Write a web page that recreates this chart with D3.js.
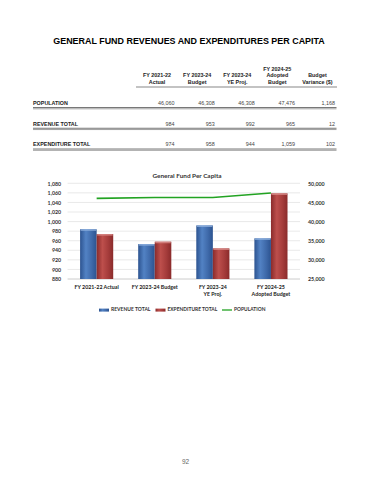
<!DOCTYPE html>
<html>
<head>
<meta charset="utf-8">
<script src="https://cdn.jsdelivr.net/npm/d3@7"></script>
<style>
  body { margin: 0; background: #fff; }
  svg { display: block; }
</style>
</head>
<body>
<div id="page"></div>
<script>
// chart data
var categories = ["FY 2021-22 Actual", "FY 2023-24 Budget", "FY 2023-24|YE Proj.", "FY 2024-25|Adopted Budget"];
var revenue = [984, 953, 992, 965];
var expenditure = [974, 958, 944, 1059];
var population = [46060, 46308, 46308, 47476];
var variance = [1168, 12, 102];

// table labels
var tableHeaders = [["FY 2021-22", "Actual"], ["FY 2023-24", "Budget"], ["FY 2023-24", "YE Proj."], ["FY 2024-25", "Adopted", "Budget"], ["Budget", "Variance ($)"]];
var rowLabels = ["POPULATION", "REVENUE TOTAL", "EXPENDITURE TOTAL"];
var leftTicks = [880, 900, 920, 940, 960, 980, 1000, 1020, 1040, 1060, 1080];
var rightTicks = [25000, 30000, 35000, 40000, 45000, 50000];

var W = 370, H = 480;
var fmt = d3.format(",");

var svg = d3.select("#page").append("svg")
    .attr("width", W)
    .attr("height", H);

// shrink/grow font so the text spans about the width seen in the original
function fitWidth(sel, target) {
    var w = sel.node().getComputedTextLength();
    var fs = parseFloat(sel.attr("font-size"));
    if (w > 0) sel.attr("font-size", (fs * target / w).toFixed(2) + "px");
}

// page title
var title = svg.append("text")
    .attr("x", 189).attr("y", 43.5)
    .attr("text-anchor", "middle")
    .attr("font-family", "Liberation Sans, Arial, sans-serif")
    .attr("font-weight", "bold")
    .attr("font-size", "9.6px")
    .attr("fill", "#000")
    .text("GENERAL FUND REVENUES AND EXPENDITURES PER CAPITA");
fitWidth(title, 272);

// ---- table ----
var tFont = "Liberation Sans, Arial, sans-serif";
var colX = d3.scaleBand().domain(d3.range(5)).range([137, 337.5]);
var rowY = d3.scalePoint().domain(d3.range(3)).range([103.5, 145]);
var rows = [population, revenue, expenditure];

tableHeaders.forEach(function(lines, c) {
    lines.forEach(function(t, i) {
        svg.append("text")
            .attr("x", colX(c) + colX.bandwidth() / 2)
            .attr("y", 82.7 - (lines.length - 1 - i) * 6.8)
            .attr("dominant-baseline", "middle")
            .attr("text-anchor", "middle")
            .attr("font-family", tFont)
            .attr("font-weight", "bold")
            .attr("font-size", "5.4px")
            .attr("fill", "#222")
            .text(t);
    });
});

svg.append("line")
    .attr("x1", 136).attr("x2", 337)
    .attr("y1", 87).attr("y2", 87)
    .attr("stroke", "#555").attr("stroke-width", 0.7);

rowLabels.forEach(function(lab, r) {
    var y = rowY(r);
    svg.append("text")
        .attr("x", 33).attr("y", y)
        .attr("dominant-baseline", "middle")
        .attr("font-family", tFont)
        .attr("font-weight", "bold")
        .attr("font-size", "5.4px")
        .attr("fill", "#222")
        .text(lab);
    var vals = rows[r].concat([variance[r]]);
    vals.forEach(function(v, c) {
        svg.append("text")
            .attr("x", colX(c) + colX.bandwidth() - 2.5)
            .attr("y", y)
            .attr("dominant-baseline", "middle")
            .attr("text-anchor", "end")
            .attr("font-family", tFont)
            .attr("font-size", "5.4px")
            .attr("fill", "#444")
            .text(fmt(v));
    });
    svg.append("line")
        .attr("x1", 33).attr("x2", 336.5)
        .attr("y1", y + 4).attr("y2", y + 4)
        .attr("stroke", "#555").attr("stroke-width", 0.8);
    svg.append("line")
        .attr("x1", 33).attr("x2", 336.5)
        .attr("y1", y + 5.3).attr("y2", y + 5.3)
        .attr("stroke", "#888").attr("stroke-width", 0.8);
});

// ---- chart ----
var plot = {left: 67.6, right: 300, top: 183.3, bottom: 279};
var cFont = "Lato, Open Sans, sans-serif";

var x = d3.scaleBand().domain(categories).range([plot.left, plot.right])
    .paddingInner(0.43).paddingOuter(0.215);
var xs = d3.scaleBand().domain(["rev", "exp"]).range([0, x.bandwidth()]);
var yL = d3.scaleLinear().domain([880, 1080]).range([plot.bottom, plot.top]);
var yR = d3.scaleLinear().domain([25000, 50000]).range([plot.bottom, plot.top]);

var defs = svg.append("defs");
function grad(id, dark, mid, light) {
    var g = defs.append("linearGradient").attr("id", id)
        .attr("x1", "0%").attr("x2", "100%").attr("y1", "0%").attr("y2", "0%");
    g.append("stop").attr("offset", "0%").attr("stop-color", dark);
    g.append("stop").attr("offset", "35%").attr("stop-color", light);
    g.append("stop").attr("offset", "70%").attr("stop-color", mid);
    g.append("stop").attr("offset", "100%").attr("stop-color", dark);
}
grad("gBlue", "#2c5390", "#3f6aaa", "#5282c4");
grad("gRed", "#8a2b2b", "#a53c3b", "#bd4f4c");

// gridlines
svg.append("g")
    .selectAll("line")
    .data(leftTicks)
    .enter().append("line")
    .attr("x1", plot.left).attr("x2", plot.right)
    .attr("y1", function(d) { return yL(d); })
    .attr("y2", function(d) { return yL(d); })
    .attr("stroke", function(d, i) { return i === 0 ? "#bfbfbf" : "#e3e3e3"; })
    .attr("stroke-width", 0.8);

// chart title
var ctitle = svg.append("text")
    .attr("x", 187).attr("y", 177.5)
    .attr("text-anchor", "middle")
    .attr("font-family", cFont)
    .attr("font-weight", "bold")
    .attr("font-size", "6.6px")
    .attr("fill", "#333")
    .text("General Fund Per Capita");
fitWidth(ctitle, 69);

// left axis
var gl = svg.append("g")
    .attr("transform", "translate(" + plot.left + ",0)")
    .call(d3.axisLeft(yL).tickValues(leftTicks).tickFormat(fmt).tickSize(0).tickPadding(6.5));
gl.select(".domain").remove();
gl.selectAll("text").attr("font-family", cFont).attr("font-weight", "bold")
    .attr("font-size", "5.3px").attr("fill", "#333");

// right axis
var gr = svg.append("g")
    .attr("transform", "translate(" + plot.right + ",0)")
    .call(d3.axisRight(yR).tickValues(rightTicks).tickFormat(fmt).tickSize(0).tickPadding(8));
gr.select(".domain").remove();
gr.selectAll("text").attr("font-family", cFont).attr("font-weight", "bold")
    .attr("font-size", "5.3px").attr("fill", "#333");

// bars
var barData = [];
categories.forEach(function(c, i) {
    barData.push({cat: c, key: "rev", v: revenue[i]});
    barData.push({cat: c, key: "exp", v: expenditure[i]});
});
var bars = svg.append("g").selectAll("g")
    .data(barData).enter().append("g");
bars.append("rect")
    .attr("x", function(d) { return x(d.cat) + xs(d.key); })
    .attr("y", function(d) { return yL(d.v); })
    .attr("width", xs.bandwidth())
    .attr("height", function(d) { return plot.bottom - yL(d.v); })
    .attr("fill", function(d) { return d.key === "rev" ? "url(#gBlue)" : "url(#gRed)"; });
bars.append("rect")
    .attr("x", function(d) { return x(d.cat) + xs(d.key) + 0.5; })
    .attr("y", function(d) { return yL(d.v); })
    .attr("width", xs.bandwidth() - 1)
    .attr("height", 1.6)
    .attr("fill", function(d) { return d.key === "rev" ? "#8fb0de" : "#d98c8a"; })
    .attr("opacity", 0.8);

// population line
var line = d3.line()
    .x(function(d, i) { return x(categories[i]) + x.bandwidth() / 2; })
    .y(function(d) { return yR(d); });
svg.append("path")
    .datum(population)
    .attr("d", line)
    .attr("fill", "none")
    .attr("stroke", "#22a322")
    .attr("stroke-width", 1.6);

// x labels
categories.forEach(function(c) {
    var parts = c.split("|");
    parts.forEach(function(p, i) {
        svg.append("text")
            .attr("x", x(c) + x.bandwidth() / 2)
            .attr("y", 287.2 + i * 7)
            .attr("dominant-baseline", "middle")
            .attr("text-anchor", "middle")
            .attr("font-family", cFont)
            .attr("font-weight", "bold")
            .attr("font-size", "5.3px")
            .attr("fill", "#222")
            .text(p);
    });
});

// legend
var legendItems = [
    {label: "REVENUE TOTAL", type: "bar", fill: "url(#gBlue)", x: 99, w: 39.5},
    {label: "EXPENDITURE TOTAL", type: "bar", fill: "url(#gRed)", x: 155.5, w: 50},
    {label: "POPULATION", type: "line", fill: "#22a322", x: 222, w: 31.5}
];
legendItems.forEach(function(it) {
    if (it.type === "bar") {
        svg.append("rect").attr("x", it.x).attr("y", 308.6)
            .attr("width", 10).attr("height", 3).attr("fill", it.fill);
    } else {
        svg.append("line").attr("x1", it.x).attr("x2", it.x + 10)
            .attr("y1", 310).attr("y2", 310)
            .attr("stroke", it.fill).attr("stroke-width", 1.3);
    }
    var t = svg.append("text")
        .attr("x", it.x + 12).attr("y", 310.2)
        .attr("dominant-baseline", "middle")
        .attr("font-family", cFont)
        .attr("font-weight", "bold")
        .attr("font-size", "5.1px")
        .attr("fill", "#333")
        .text(it.label);
    fitWidth(t, it.w);
});

// page number
svg.append("text")
    .attr("x", 185.5).attr("y", 461.8)
    .attr("dominant-baseline", "middle")
    .attr("text-anchor", "middle")
    .attr("font-family", "Liberation Sans, Arial, sans-serif")
    .attr("font-size", "6.5px")
    .attr("fill", "#666")
    .text("92");
</script>
</body>
</html>
